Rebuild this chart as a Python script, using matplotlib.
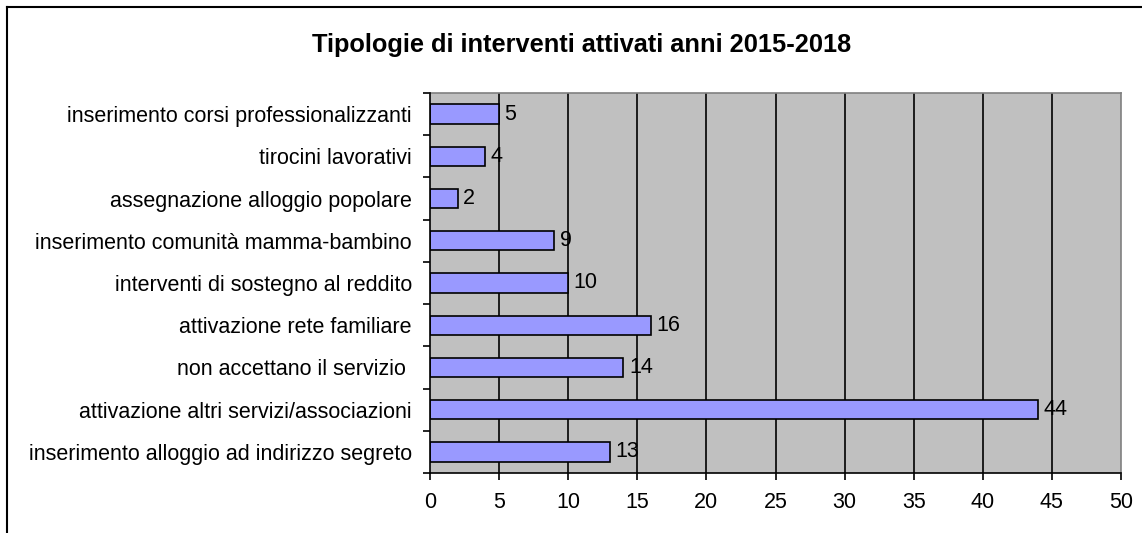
import matplotlib
matplotlib.use('Agg')
import matplotlib.pyplot as plt
from matplotlib.lines import Line2D

# data, bottom to top as drawn
categories = [
    'inserimento alloggio ad indirizzo segreto',
    'attivazione altri servizi/associazioni',
    'non accettano il servizio ',
    'attivazione rete familiare',
    'interventi di sostegno al reddito',
    'inserimento comunità mamma-bambino',
    'assegnazione alloggio popolare',
    'tirocini lavorativi',
    'inserimento corsi professionalizzanti',
]
values = [13, 44, 14, 16, 10, 9, 2, 4, 5]
xticks = [0, 5, 10, 15, 20, 25, 30, 35, 40, 45, 50]
title = 'Tipologie di interventi attivati anni 2015-2018'

plt.rcParams['font.family'] = ['Liberation Sans', 'DejaVu Sans']

W, H = 1142, 533
fig = plt.figure(figsize=(W / 100, H / 100), dpi=100)
fig.patch.set_facecolor('white')

# plot area in pixels: x 430..1121, y 93..473
ax = fig.add_axes([430 / W, (H - 473) / H, (1121 - 430) / W, (473 - 93) / H])
ax.set_facecolor('#C0C0C0')

n = len(categories)
ypos = list(range(n))
ax.barh(ypos, values, height=0.46, color='#9999FF', edgecolor='black',
        linewidth=1.2, zorder=3)
for y, v in zip(ypos, values):
    ax.annotate(str(v), (v, y), xytext=(4, 0), textcoords='offset points',
                va='center', ha='left', fontsize=15.5, zorder=4)

ax.set_xlim(0, 50)
ax.set_ylim(-0.5, n - 0.5)
ax.set_xticks(xticks)
ax.set_xticklabels([str(t) for t in xticks])

# category labels centred, tick marks at the boundaries
ax.set_yticks(ypos)
ax.set_yticklabels(categories)
ax.set_yticks([i - 0.5 for i in range(n + 1)], minor=True)
ax.tick_params(axis='y', which='major', length=0, pad=13, labelsize=15.5)
ax.tick_params(axis='y', which='minor', length=5, width=1.2, direction='out')
ax.tick_params(axis='x', length=5, width=1.2, direction='out', pad=9,
               labelsize=15.5)

# vertical gridlines
for t in xticks[1:-1]:
    ax.axvline(t, color='black', lw=1.2, zorder=2)

for side in ['top', 'right']:
    ax.spines[side].set_color('#808080')
    ax.spines[side].set_linewidth(1.2)
for side in ['left', 'bottom']:
    ax.spines[side].set_color('black')
    ax.spines[side].set_linewidth(1.2)
    ax.spines[side].set_zorder(5)

fig.text(582 / W, 1 - 45 / H, title, ha='center', va='center',
         fontsize=18.3, fontweight='bold')

# outer chart frame (only left and top edges visible)
fig.add_artist(Line2D([7 / W, 7 / W], [-0.1, 1 - 7 / H], color='black', lw=1.5))
fig.add_artist(Line2D([7 / W, 1.1], [1 - 7 / H, 1 - 7 / H], color='black', lw=1.5))

fig.savefig('out.png', dpi=100)
